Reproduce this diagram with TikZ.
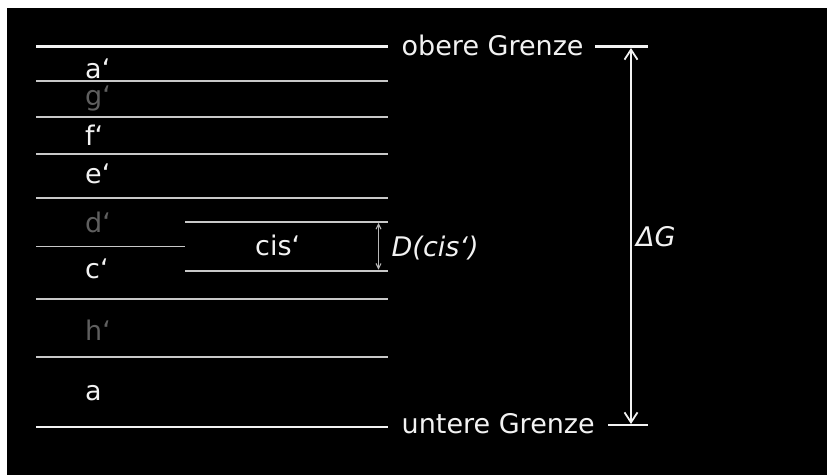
\documentclass[tikz,border=0pt]{standalone}
\usepackage{fontspec}
\setmainfont{DejaVu Sans}
\usetikzlibrary{arrows.meta}
\definecolor{ink}{HTML}{F2F2F2}
\definecolor{rule}{HTML}{C8C8C8}
\definecolor{dim}{HTML}{5F5F5F}
\definecolor{dimarrow}{HTML}{B8B8B8}
\tikzset{
  thickrule/.style={draw=ink, line width=2.8pt},
  thinrule/.style={draw=rule, line width=1.8pt},
  lbl/.style={anchor=base west, inner sep=0pt, text=ink, font=\fontsize{27}{32}\selectfont},
  lbldim/.style={lbl, text=dim},
  lblit/.style={lbl, font=\fontsize{27}{32}\selectfont\itshape},
  bigarrow/.style={draw=ink, line width=1.8pt,
    {Straight Barb[length=10pt,width=13pt]}-{Straight Barb[length=10pt,width=13pt]}},
  smallarrow/.style={draw=dimarrow, line width=1.1pt,
    {Straight Barb[length=5pt,width=5pt]}-{Straight Barb[length=5pt,width=5pt]}}
}
\begin{document}
\begin{tikzpicture}[x=1pt,y=-1pt]
  \useasboundingbox (0,0) rectangle (827,475);
  \fill[white] (0,0) rectangle (827,475);
  \fill[black] (7,7.5) rectangle (827,475);

  % outer boundaries
  \draw[thickrule] (36,46.5) -- (388,46.5);
  \draw[thickrule] (36,427) -- (388,427);
  \draw[thickrule] (595,46.5) -- (648,46.5);
  \draw[thickrule] (608,425) -- (648,425);

  % inner tone rules
  \draw[thinrule] (36,80.7) -- (388,80.7);
  \draw[thinrule] (36,117) -- (388,117);
  \draw[thinrule] (36,154) -- (388,154);
  \draw[thinrule] (36,198) -- (388,198);
  \draw[thinrule] (36,246.5) -- (185,246.5);
  \draw[thinrule] (185,222) -- (388,222);
  \draw[thinrule] (185,270.7) -- (388,270.7);
  \draw[thinrule] (36,298.7) -- (388,298.7);
  \draw[thinrule] (36,357.3) -- (388,357.3);

  % tone names
  \node[lbl]    (ta) at (85,78)   {a‘};
  \node[lbldim] (tg) at (85,105)  {g‘};
  \node[lbl]    (tf) at (85,145)  {f‘};
  \node[lbl]    (te) at (85,183)  {e‘};
  \node[lbldim] (td) at (85,232)  {d‘};
  \node[lbl]    (tc) at (85,278)  {c‘};
  \node[lbldim] (th) at (85,340)  {h‘};
  \node[lbl]    (tA) at (85,400.5){a};
  \node[lbl]    (tcis) at (255,255) {cis‘};

  % limits and widths
  \node[lbl]   (upper) at (401.5,55)  {obere Grenze};
  \node[lbl]   (lower) at (401.5,433) {untere Grenze};
  \node[lblit] (dcis)  at (391.5,256) {D(cis‘)};
  \node[lblit] (dG)    at (636,246.5) {ΔG};

  \coordinate (gtop) at (631,48);
  \coordinate (gbot) at (631,424);
  \draw[bigarrow] (gtop) -- (gbot);

  \coordinate (ctop) at (378.5,223);
  \coordinate (cbot) at (378.5,269.7);
  \draw[smallarrow] (ctop) -- (cbot);
\end{tikzpicture}
\end{document}
